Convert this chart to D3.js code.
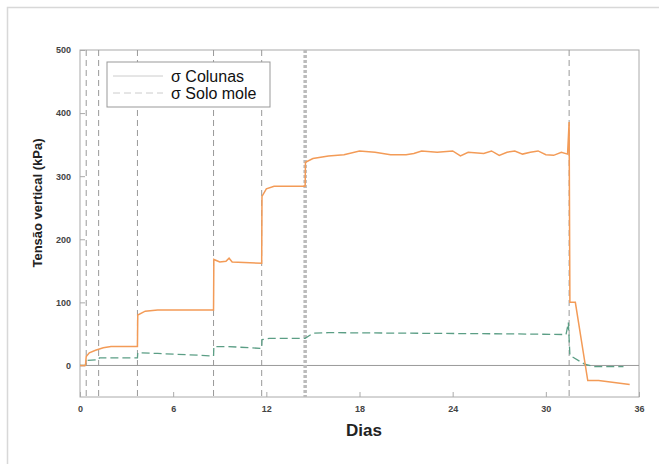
<!DOCTYPE html>
<html>
<head>
<meta charset="utf-8">
<script src="https://cdn.jsdelivr.net/npm/d3@7"></script>
<style>
  body { margin: 0; background: #fff; }
  svg { font-family: "Liberation Sans", Arial, sans-serif; }
</style>
</head>
<body>
<svg id="viz"></svg>
<script>
// ----------------------- DATA
const colunasDias = [0, 0.35, 0.4, 0.6, 1.0, 1.5, 2.0, 3.7, 3.72, 4.2, 5, 8.6, 8.62, 9.0, 9.4, 9.6, 9.8, 11.7, 11.72, 12.0, 12.5, 14.5, 14.52, 15, 16, 17, 18, 19, 20, 21, 21.5, 22, 23, 24, 24.5, 25, 26, 26.5, 27, 27.5, 28, 28.5, 29, 29.5, 30, 30.5, 31, 31.4, 31.5, 31.55, 31.9, 32.7, 33.4, 35.4];
const colunasTensao = [0, 0, 14, 20, 24, 28, 30, 30, 80, 86, 88, 88, 168, 164, 165, 170, 164, 162, 268, 280, 284, 284, 322, 328, 332, 334, 340, 338, 334, 334, 336, 340, 338, 340, 332, 338, 336, 340, 333, 338, 340, 335, 338, 340, 334, 333, 338, 335, 386, 100, 100, -24, -24, -30];

const soloDias = [0, 0.35, 0.4, 1.2, 1.25, 3.7, 3.72, 5, 7, 8.6, 8.62, 9.5, 11.7, 11.72, 12.2, 14.5, 15, 16, 22, 28, 31.3, 31.45, 31.55, 32.5, 33.1, 35];
const soloTensao = [0, 0, 8, 9, 12, 12, 20, 19, 17, 15, 30, 30, 27, 41, 43, 43, 51, 52, 51, 50, 49, 68, 16, 2, -2, -2];

const divisoriasDias = [0.4, 1.2, 3.7, 8.6, 11.7, 31.5];
const divisoriaForte = 14.5;

const xTicks = [0, 6, 12, 18, 24, 30, 36];
const yTicks = [0, 100, 200, 300, 400, 500];
const legendaNomes = ['σ Colunas', 'σ Solo mole'];

// ----------------------- SETTINGS
const W = 659, H = 464;
const margin = { top: 50, right: 20, bottom: 67, left: 80 };
const width = 639 - margin.left;
const height = 397 - margin.top;

const svg = d3.select('#viz').attr('width', W).attr('height', H);

// outer frame
svg.append('rect')
  .attr('x', 7.5).attr('y', 7.5)
  .attr('width', 670).attr('height', 480)
  .attr('fill', 'none').attr('stroke', '#d8d8d8').attr('stroke-width', 1.5);

const chart = svg.append('g')
  .attr('transform', `translate(${margin.left}, ${margin.top})`);

const x = d3.scaleLinear().domain([0, 36]).range([0, width]);
const y = d3.scaleLinear().domain([-50, 500]).range([height, 0]);

// plot frame
chart.append('rect')
  .attr('width', width).attr('height', height)
  .attr('fill', 'none').attr('stroke', '#aaa').attr('stroke-width', 1);

// axes (ticks pointing inside)
const xAxis = chart.append('g')
  .attr('transform', `translate(0, ${height})`)
  .call(d3.axisBottom(x).tickValues(xTicks).tickSize(-5).tickPadding(9));
const yAxis = chart.append('g')
  .call(d3.axisLeft(y).tickValues(yTicks).tickSize(-5).tickPadding(9));

[xAxis, yAxis].forEach(a => {
  a.select('.domain').remove();
  a.selectAll('line').attr('stroke', '#aaa');
  a.selectAll('text')
    .attr('fill', '#444')
    .style('font-size', '9px')
    .style('font-weight', 'bold');
});

// zero line
chart.append('line')
  .attr('x1', 0).attr('x2', width)
  .attr('y1', y(0)).attr('y2', y(0))
  .attr('stroke', '#999').attr('stroke-width', 1);

// stage dividers
chart.selectAll('.divisoria')
  .data(divisoriasDias)
  .enter().append('line')
  .attr('class', 'divisoria')
  .attr('x1', d => x(d)).attr('x2', d => x(d))
  .attr('y1', 0).attr('y2', height)
  .attr('stroke', '#999').attr('stroke-width', 1)
  .attr('stroke-dasharray', '6,4');

chart.append('line')
  .attr('x1', x(divisoriaForte)).attr('x2', x(divisoriaForte))
  .attr('y1', 0).attr('y2', height)
  .attr('stroke', '#bbb').attr('stroke-width', 3.5)
  .attr('stroke-dasharray', '3,2');

// series
const line = d3.line().x(d => x(d[0])).y(d => y(d[1]));

chart.append('path')
  .datum(d3.zip(soloDias, soloTensao))
  .attr('d', line)
  .attr('fill', 'none')
  .attr('stroke', '#5b9e85').attr('stroke-width', 1.3)
  .attr('stroke-dasharray', '8,4');

chart.append('path')
  .datum(d3.zip(colunasDias, colunasTensao))
  .attr('d', line)
  .attr('fill', 'none')
  .attr('stroke', '#f39b57').attr('stroke-width', 1.5);

// legend
const legend = svg.append('g').attr('transform', 'translate(107, 62)');
legend.append('rect')
  .attr('width', 163).attr('height', 45)
  .attr('fill', '#fff').attr('stroke', '#999').attr('stroke-width', 1);
legendaNomes.forEach((nome, i) => {
  const ly = 14 + i * 17;
  legend.append('line')
    .attr('x1', 6).attr('x2', 56).attr('y1', ly).attr('y2', ly)
    .attr('stroke', '#ccc').attr('stroke-width', 1)
    .attr('stroke-dasharray', i ? '7,4' : null);
  legend.append('text')
    .attr('x', 64).attr('y', ly + 6)
    .attr('fill', '#111')
    .style('font-size', '16px')
    .text(nome);
});

// axis titles
svg.append('text')
  .attr('transform', 'translate(42, 203) rotate(-90)')
  .attr('text-anchor', 'middle')
  .attr('fill', '#222')
  .style('font-size', '13px')
  .style('font-weight', 'bold')
  .text('Tensão vertical (kPa)');

svg.append('text')
  .attr('x', 364).attr('y', 436)
  .attr('text-anchor', 'middle')
  .attr('fill', '#222')
  .style('font-size', '17px')
  .style('font-weight', 'bold')
  .text('Dias');
</script>
</body>
</html>
